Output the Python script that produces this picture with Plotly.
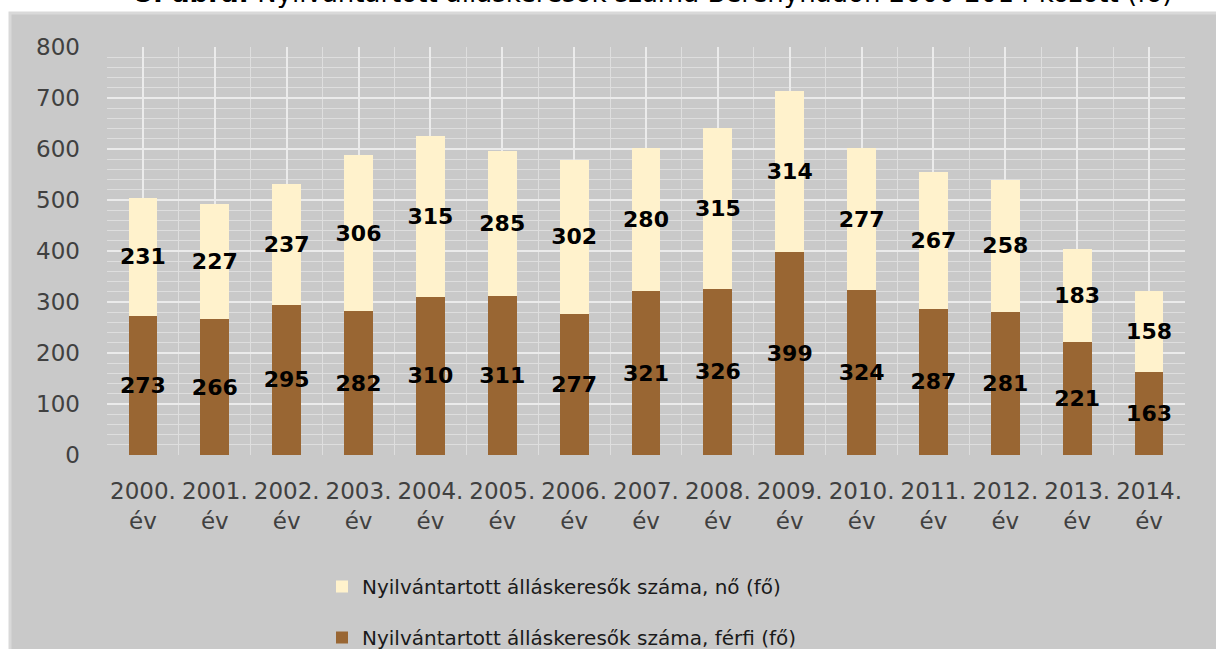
import plotly.graph_objects as go

years = ["2000.", "2001.", "2002.", "2003.", "2004.", "2005.", "2006.", "2007.",
         "2008.", "2009.", "2010.", "2011.", "2012.", "2013.", "2014."]
tick_labels = [y + "<br>év" for y in years]
male = [273, 266, 295, 282, 310, 311, 277, 321, 326, 399, 324, 287, 281, 221, 163]
female = [231, 227, 237, 306, 315, 285, 302, 280, 315, 314, 277, 267, 258, 183, 158]
name_female = "Nyilvántartott álláskeresők száma, nő (fő)"
name_male = "Nyilvántartott álláskeresők száma, férfi (fő)"
title_text = "<b>5. ábra:</b> Nyilvántartott álláskeresők száma Berényhadon 2000-2014 között (fő)"

xs = list(range(len(years)))

W, H = 1216, 649
L, R, T, B = 107, 31, 47, 194
pw, ph = W - L - R, H - T - B

def px_x(p):
    return (p - L) / pw

def px_y(p):
    return (H - B - p) / ph

label_font = dict(family="DejaVu Sans", size=22, color="black", weight="bold")

fig = go.Figure()
fig.add_trace(go.Bar(
    x=xs, y=male, name=name_male, marker=dict(color="#996633", line=dict(width=0)),
    text=male, textposition="inside", insidetextanchor="middle", textangle=0,
    constraintext="none", textfont=label_font, legendgroup="m", legendrank=2,
))
fig.add_trace(go.Bar(
    x=xs, y=female, name=name_female, marker=dict(color="#FFF2CC", line=dict(width=0)),
    text=female, textposition="inside", insidetextanchor="middle", textangle=0,
    constraintext="none", textfont=label_font, legendgroup="f", legendrank=1,
))

fig.update_layout(
    width=W, height=H,
    margin=dict(l=L, r=R, t=T, b=B, autoexpand=False),
    barmode="stack", bargap=0.6,
    paper_bgcolor="white", plot_bgcolor="rgba(0,0,0,0)",
    font=dict(family="DejaVu Sans", color="#404040"),
    showlegend=True,
    legend=dict(
        orientation="v", x=px_x(322), xanchor="left", y=px_y(567), yanchor="top",
        traceorder="grouped", tracegroupgap=22,
        font=dict(family="DejaVu Sans", size=20, color="#1a1a1a"),
        bgcolor="rgba(0,0,0,0)", itemwidth=30,
    ),
    xaxis=dict(
        range=[-0.5, len(years) - 0.5], tickmode="array", tickvals=xs, ticktext=tick_labels,
        tickfont=dict(family="DejaVu Sans", size=23, color="#404040"),
        showgrid=True, gridcolor="#EBEBEB", gridwidth=2,
        minor=dict(tickmode="linear", tick0=0.5, dtick=1, showgrid=True,
                   gridcolor="#DEDEDE", gridwidth=1),
        zeroline=False, showline=False, ticks="", ticklabelstandoff=20,
    ),
    yaxis=dict(
        range=[0, 800], dtick=100, tick0=0,
        tickfont=dict(family="DejaVu Sans", size=23, color="#404040"),
        showgrid=True, gridcolor="#EBEBEB", gridwidth=2,
        minor=dict(dtick=20, showgrid=True, gridcolor="#DEDEDE", gridwidth=1),
        zeroline=False, showline=False, ticks="", ticklabelstandoff=26,
    ),
    shapes=[dict(
        type="rect", xref="paper", yref="paper", layer="below",
        x0=px_x(10), x1=px_x(1222), y0=px_y(660), y1=px_y(13),
        fillcolor="#C9C9C9", line=dict(color="#D9D9D9", width=3),
    )],
    annotations=[dict(
        text=title_text, xref="paper", yref="paper", x=px_x(133), xanchor="left",
        y=px_y(10), yanchor="bottom", showarrow=False,
        font=dict(family="DejaVu Sans", size=26, color="black"),
    )],
)

fig.write_html("out.html", config={"displayModeBar": False},
               post_script="document.body.style.margin='0';")
